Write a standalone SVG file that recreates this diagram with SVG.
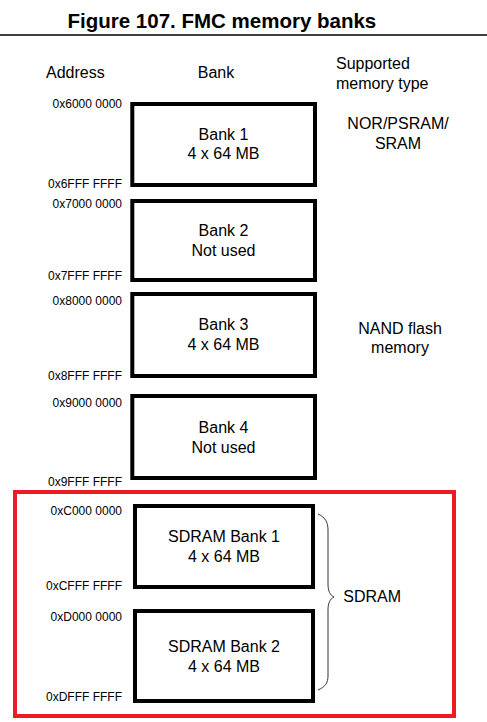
<svg xmlns="http://www.w3.org/2000/svg" width="487" height="722" viewBox="0 0 487 722">
<style>
text{font-family:"Liberation Sans",Arial,sans-serif;fill:#000}
.t{font-size:20.5px;font-weight:bold}
.h{font-size:16px}
.b{font-size:16px;text-anchor:middle}
.a{font-size:12px;text-anchor:end}
.box{fill:#fff;stroke:#000;stroke-width:4}
</style>
<rect width="487" height="722" fill="#fff"/>
<text class="t" x="67.5" y="27.5">Figure 107. FMC memory banks</text>
<line x1="0" y1="35" x2="487" y2="35" stroke="#000" stroke-width="1.3"/>
<g id="headers">
<text class="h" x="46" y="77.5">Address</text>
<text class="h" x="216" y="77.5" text-anchor="middle">Bank</text>
<text class="h" x="336" y="68.5">Supported</text>
<text class="h" x="336" y="88.5">memory type</text>
</g>
<g id="bank1">
<rect class="box" x="132.3" y="104" width="182.7" height="81"/>
<text class="b" x="223.5" y="140">Bank 1</text>
<text class="b" x="223.5" y="159">4 x 64 MB</text>
<text class="a" x="122" y="108">0x6000 0000</text>
<text class="a" x="122" y="187.5">0x6FFF FFFF</text>
</g>
<g id="bank2">
<rect class="box" x="132.3" y="201" width="182.7" height="79"/>
<text class="b" x="223.5" y="236">Bank 2</text>
<text class="b" x="223.5" y="256">Not used</text>
<text class="a" x="122" y="208.3">0x7000 0000</text>
<text class="a" x="122" y="280">0x7FFF FFFF</text>
</g>
<g id="bank3">
<rect class="box" x="132.3" y="294" width="182.7" height="82"/>
<text class="b" x="223.5" y="330">Bank 3</text>
<text class="b" x="223.5" y="350">4 x 64 MB</text>
<text class="a" x="122" y="305">0x8000 0000</text>
<text class="a" x="122" y="380">0x8FFF FFFF</text>
</g>
<g id="bank4">
<rect class="box" x="132.3" y="396" width="182.7" height="82"/>
<text class="b" x="223.5" y="433.3">Bank 4</text>
<text class="b" x="223.5" y="453.3">Not used</text>
<text class="a" x="122" y="406.7">0x9000 0000</text>
<text class="a" x="122" y="486">0x9FFF FFFF</text>
</g>
<g id="types">
<text class="b" x="398" y="129.3">NOR/PSRAM/</text>
<text class="b" x="398" y="148.7">SRAM</text>
<text class="b" x="400" y="334">NAND flash</text>
<text class="b" x="400" y="353.3">memory</text>
</g>
<g id="sdram-region">
<rect x="15" y="492" width="439" height="224" fill="none" stroke="#ED1C24" stroke-width="4"/>
</g>
<g id="sdram1">
<rect class="box" x="135" y="506" width="178" height="81"/>
<text class="b" x="224" y="542.3">SDRAM Bank 1</text>
<text class="b" x="224" y="561.7">4 x 64 MB</text>
<text class="a" x="122" y="515">0xC000 0000</text>
<text class="a" x="122" y="590">0xCFFF FFFF</text>
</g>
<g id="sdram2">
<rect class="box" x="135" y="611" width="178" height="90"/>
<text class="b" x="224" y="652.3">SDRAM Bank 2</text>
<text class="b" x="224" y="672.3">4 x 64 MB</text>
<text class="a" x="122" y="621">0xD000 0000</text>
<text class="a" x="122" y="701">0xDFFF FFFF</text>
</g>
<g id="connectors">
<path d="M318,514 C325,517 328,522 328,530 L328,584 C328,591 330,595 334,597 C330,599 328,603 328,610 L328,676 C328,683 325,687 318,690" fill="none" stroke="#333" stroke-width="1"/>
</g>
<g id="sdram-label">
<text class="h" x="343.3" y="602.3">SDRAM</text>
</g>
</svg>
